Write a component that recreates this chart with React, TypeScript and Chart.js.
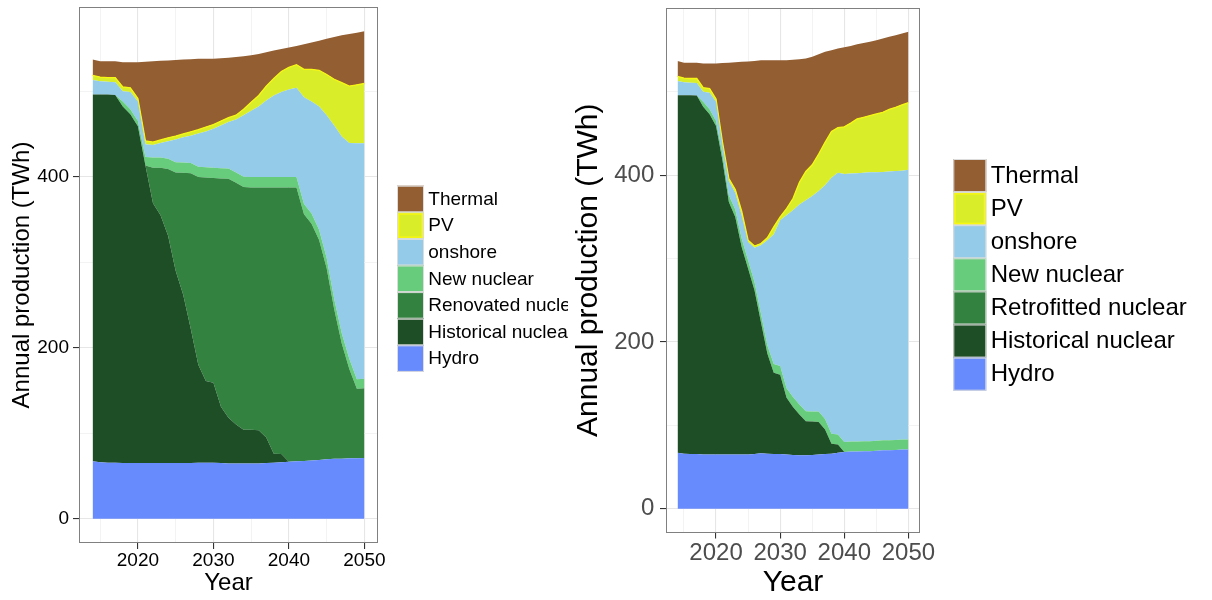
import React, { useEffect, useRef } from 'react';
import { Chart, registerables } from 'chart.js';

Chart.register(...registerables);

const FONT = '"Liberation Sans", Arial, Helvetica, sans-serif';
Chart.defaults.font.family = FONT;

// ---------- categories / ticks ----------
const years = [
  2014, 2015, 2016, 2017, 2018, 2019, 2020, 2021, 2022, 2023, 2024, 2025, 2026,
  2027, 2028, 2029, 2030, 2031, 2032, 2033, 2034, 2035, 2036, 2037, 2038, 2039,
  2040, 2041, 2042, 2043, 2044, 2045, 2046, 2047, 2048, 2049, 2050,
];
const xGridTicks = [2015, 2020, 2025, 2030, 2035, 2040, 2045, 2050];
const xLabelTicks = [2020, 2030, 2040, 2050];
const yGridTicks = [0, 100, 200, 300, 400, 500];
const yLabelTicks = [0, 200, 400];

// ---------- left scenario (TWh) ----------
const hydroA = [67, 66, 65.5, 65.5, 65, 65, 65, 65, 65, 65, 65, 65, 65, 65, 65.5, 65.5, 65.5, 65, 64.5, 64.5, 64.5, 64.5, 64.5, 65, 65.5, 66, 66.5, 67, 67.5, 68, 68.5, 69.5, 70, 70, 70.5, 70.5, 71];
const historicalA = [429, 430, 430.5, 430, 417, 408, 394, 348, 304, 290, 266, 225, 197, 157, 114.5, 95.5, 93.5, 66, 53.5, 45.5, 39.5, 39.5, 39, 30, 10.5, 9.5, 0, 0, 0, 0, 0, 0, 0, 0, 0, 0, 0];
const renovatedA = [0, 0, 0, 0, 0, 0, 0, 0, 41.5, 55.5, 78, 115, 142.5, 182, 219.5, 238, 239.5, 267, 279.5, 283, 284, 283.5, 284, 292.5, 311.5, 312, 321, 320.5, 288.5, 277, 257.5, 223.5, 175, 135, 104.5, 81.5, 81.5];
const newNuclearA = [0, 0, 0, 0, 6, 6, 6, 10, 12, 12, 12, 12, 12, 12, 12, 12, 12, 12, 12, 12, 12, 12, 12, 12, 12, 12, 12, 12, 12, 12, 12, 12, 12, 12, 12, 11, 11];
const onshoreA = [17, 15.5, 15, 15, 12, 20, 23, 15, 14.5, 17, 20.5, 26.5, 29.5, 32, 39, 42, 45.5, 50, 54.5, 62, 72, 77.5, 82.5, 89.5, 95.5, 99.5, 102.5, 104.5, 125, 131, 144, 167, 203, 230, 252.5, 276, 275.5];
const pvA = [5.5, 5, 5, 5.5, 5, 5, 3.5, 4, 3.5, 3.5, 4, 4, 4, 4.5, 4.5, 5, 5, 5, 5, 5, 7, 10, 13, 17, 20, 24, 26, 27, 32.5, 37.5, 42.5, 47.5, 54, 63, 66.5, 68.5, 70];
const thermalA = [18.5, 18.5, 19, 19, 29, 30, 42.5, 92.5, 94.5, 92.5, 90.5, 89, 87, 85, 83, 80, 77, 73.5, 70, 68, 62, 55, 48.5, 39.5, 32.5, 26.5, 23, 22, 29.5, 31.5, 34.5, 42, 49.5, 55.5, 61, 61, 61];

// ---------- right scenario (TWh) ----------
const hydroB = [67, 66, 65.5, 65.5, 65, 65, 65, 65, 65, 65, 65, 65, 65.5, 66.5, 66, 65.5, 65.5, 65, 64.5, 64, 64, 64.5, 65, 65.5, 66, 67, 68, 68.5, 68.5, 69, 69, 69.5, 70, 70, 70.5, 71, 71];
const historicalB = [429, 430, 430.5, 430, 417, 408, 394, 353, 303, 285, 249, 223, 196.5, 157.5, 120, 97.5, 95, 68, 57.5, 49, 41, 40, 39, 29.5, 12, 10, 0, 0, 0, 0, 0, 0, 0, 0, 0, 0, 0];
const retrofittedB = [0, 0, 0, 0, 0, 0, 0, 0, 0, 0, 0, 0, 0, 0, 0, 0, 0, 0, 0, 0, 0, 0, 0, 0, 0, 0, 0, 0, 0, 0, 0, 0, 0, 0, 0, 0, 0];
const newNuclearB = [0, 0, 0, 0, 6, 6, 6, 8, 8, 9, 10, 10, 10, 10, 10, 10.5, 10.5, 11.5, 12, 12, 12, 12, 12.5, 12.5, 12, 12, 12, 12, 12, 12, 12, 12, 12, 12, 12, 12, 12];
const onshoreB = [17, 15.5, 15, 15, 12, 20, 23, 11, 17, 20, 28, 22, 41, 82, 126, 155.5, 175, 207.5, 224, 240, 253, 258.5, 264.5, 280.5, 307, 314, 321.5, 321.5, 322, 322, 322.5, 322, 322, 322.5, 322.5, 322.5, 323.5];
const pvB = [5.5, 5, 5, 5.5, 5, 5, 3.5, 3, 3, 4, 5, 2, 2, 2, 3, 9, 4, 8, 14, 26.5, 34.5, 37.5, 44.5, 51.5, 55.5, 54, 56.5, 60.5, 65, 66.5, 68, 70, 71.5, 74.5, 76.5, 79, 80.5];
const thermalB = [18.5, 18.5, 19, 19, 29, 30, 42.5, 94.5, 139, 152.5, 179, 214.5, 222, 220, 213, 200, 188, 178, 166.5, 147.5, 135.5, 129.5, 119.5, 108.5, 97.5, 95, 95.5, 92.5, 89.5, 89, 88.5, 88.5, 88.5, 87, 86.5, 85.5, 85];

// legend entries, top to bottom
const legendNamesA = ['Thermal', 'PV', 'onshore', 'New nuclear', 'Renovated nuclear', 'Historical nuclear', 'Hydro'];
const legendNamesB = ['Thermal', 'PV', 'onshore', 'New nuclear', 'Retrofitted nuclear', 'Historical nuclear', 'Hydro'];

const COLORS = {
  thermal: '#925e32',
  pv: '#d9ee29',
  pvLine: '#f7f712',
  onshore: '#93cbe9',
  newNuc: '#67cc7b',
  renov: '#338240',
  hist: '#1e4e26',
  hydro: '#678bfc',
};
// stack order bottom -> top
const stackColors = [COLORS.hydro, COLORS.hist, COLORS.renov, COLORS.newNuc, COLORS.onshore, COLORS.pv, COLORS.thermal];

const ggPlugin = {
  id: 'ggExtras',
  afterDraw(chart: any, _args: any, opts: any) {
    const { ctx, chartArea: a } = chart;
    ctx.save();
    // panel border
    ctx.strokeStyle = '#808080';
    ctx.lineWidth = 1;
    const l = Math.round(a.left) + 0.5;
    const t = Math.round(a.top) + 0.5;
    const r = Math.round(a.right) - 0.5;
    const b = Math.round(a.bottom) - 0.5;
    ctx.strokeRect(l, t, r - l, b - t);
    // legend
    const lg = opts.legend;
    ctx.font = `${lg.fontSize}px ${FONT}`;
    ctx.textBaseline = 'middle';
    ctx.textAlign = 'left';
    lg.names.forEach((name: string, i: number) => {
      const y = lg.top + i * lg.keyH;
      const color = stackColors[stackColors.length - 1 - i];
      ctx.fillStyle = color;
      ctx.fillRect(lg.left, y, lg.keyW, lg.keyH);
      ctx.strokeStyle = '#dcdcdc';
      ctx.lineWidth = 1;
      ctx.strokeRect(lg.left + 0.5, y + 0.5, lg.keyW - 1, lg.keyH - 1);
      if (i === 1) {
        ctx.strokeStyle = COLORS.pvLine;
        ctx.lineWidth = 1.5;
        ctx.strokeRect(lg.left + 1.75, y + 1.75, lg.keyW - 3.5, lg.keyH - 3.5);
      }
      ctx.fillStyle = '#000';
      ctx.fillText(name, lg.textX, y + lg.keyH / 2 + 0.5);
    });
    ctx.restore();
  },
};

type Spec = {
  series: number[][]; // bottom -> top
  legendNames: string[];
  width: number;
  padding: { top: number; right: number; left: number; bottom: number };
  yAxisWidth: number;
  xAxisHeight: number;
  tickSize: number;
  tickColor: string;
  titleSize: number;
  yTitlePad: number;
  xTitlePad: number;
  yTickPad: number;
  yMin: number;
  yMax: number;
  legend: any;
};

function buildConfig(s: Spec): any {
  const stackNames = [...s.legendNames].reverse();
  const datasets = s.series.map((vals, i) => ({
    label: stackNames[i],
    data: years.map((yr, j) => ({ x: yr, y: vals[j] })),
    backgroundColor: stackColors[i],
    borderColor: i === 5 ? COLORS.pvLine : 'rgba(0,0,0,0)',
    borderWidth: i === 5 ? 1.3 : 0,
    fill: i === 0 ? 'origin' : '-1',
    pointRadius: 0,
    pointHoverRadius: 0,
    tension: 0,
  }));
  const gridColor = (major: boolean) => (major ? '#e6e6e6' : '#f3f3f3');
  return {
    type: 'line',
    data: { datasets },
    plugins: [ggPlugin],
    options: {
      animation: false,
      responsive: false,
      devicePixelRatio: 1,
      events: [],
      layout: { padding: s.padding },
      plugins: {
        legend: { display: false },
        tooltip: { enabled: false },
        ggExtras: { legend: { ...s.legend, names: s.legendNames } },
      },
      scales: {
        x: {
          type: 'linear',
          min: 2012.2,
          max: 2051.8,
          afterBuildTicks: (sc: any) => {
            sc.ticks = xGridTicks.map((v) => ({ value: v }));
          },
          afterFit: (sc: any) => {
            sc.height = s.xAxisHeight;
            sc.paddingLeft = 0;
            sc.paddingRight = 0;
            sc.paddingTop = 0;
            sc.paddingBottom = 0;
          },
          border: { display: false },
          grid: {
            color: (c: any) => gridColor(xLabelTicks.includes(c.tick?.value)),
            lineWidth: (c: any) => (xLabelTicks.includes(c.tick?.value) ? 1.1 : 1),
            tickLength: 6,
            tickColor: (c: any) => (xLabelTicks.includes(c.tick?.value) ? '#333333' : 'rgba(0,0,0,0)'),
            tickWidth: 1.1,
          },
          ticks: {
            autoSkip: false,
            maxRotation: 0,
            minRotation: 0,
            padding: 0,
            color: s.tickColor,
            font: { size: s.tickSize, family: FONT },
            callback: (v: any) => (xLabelTicks.includes(v) ? String(v) : ''),
          },
          title: {
            display: true,
            text: 'Year',
            color: '#000',
            font: { size: s.titleSize, family: FONT, lineHeight: 1 },
            padding: { top: 0, bottom: s.xTitlePad },
          },
        },
        y: {
          type: 'linear',
          stacked: true,
          min: s.yMin,
          max: s.yMax,
          afterBuildTicks: (sc: any) => {
            sc.ticks = yGridTicks.map((v) => ({ value: v }));
          },
          afterFit: (sc: any) => {
            sc.width = s.yAxisWidth;
            sc.paddingLeft = 0;
            sc.paddingRight = 0;
            sc.paddingTop = 0;
            sc.paddingBottom = 0;
          },
          border: { display: false },
          grid: {
            color: (c: any) => gridColor(yLabelTicks.includes(c.tick?.value)),
            lineWidth: (c: any) => (yLabelTicks.includes(c.tick?.value) ? 1.1 : 1),
            tickLength: 6,
            tickColor: (c: any) => (yLabelTicks.includes(c.tick?.value) ? '#333333' : 'rgba(0,0,0,0)'),
            tickWidth: 1.1,
          },
          ticks: {
            padding: s.yTickPad,
            color: s.tickColor,
            font: { size: s.tickSize, family: FONT },
            callback: (v: any) => (yLabelTicks.includes(v) ? String(v) : ''),
          },
          title: {
            display: true,
            text: 'Annual production (TWh)',
            color: '#000',
            font: { size: s.titleSize, family: FONT, lineHeight: 1 },
            padding: { top: s.yTitlePad, bottom: 0 },
          },
        },
      },
    },
  };
}

const specA: Spec = {
  series: [hydroA, historicalA, renovatedA, newNuclearA, onshoreA, pvA, thermalA],
  legendNames: legendNamesA,
  width: 568,
  padding: { top: 7, right: 190, left: 0, bottom: 0 },
  yAxisWidth: 79,
  xAxisHeight: 57,
  tickSize: 19,
  tickColor: '#000000',
  titleSize: 24,
  yTitlePad: 10.7,
  xTitlePad: 4.6,
  yTickPad: 4,
  yMin: -28.5,
  yMax: 598.5,
  legend: { left: 397, top: 185.7, keyW: 27, keyH: 26.6, textX: 428.3, fontSize: 19 },
};

const specB: Spec = {
  series: [hydroB, historicalB, retrofittedB, newNuclearB, onshoreB, pvB, thermalB],
  legendNames: legendNamesB,
  width: 644,
  padding: { top: 8, right: 292, left: 0, bottom: 0 },
  yAxisWidth: 98,
  xAxisHeight: 67.5,
  tickSize: 24,
  tickColor: '#4d4d4d',
  titleSize: 30,
  yTitlePad: 5.3,
  xTitlePad: 2.1,
  yTickPad: 5.7,
  yMin: -28.6,
  yMax: 600.6,
  legend: { left: 385.3, top: 159, keyW: 33, keyH: 33.1, textX: 422.7, fontSize: 24 },
};

function Panel({ spec, left }: { spec: Spec; left: number }) {
  const ref = useRef<HTMLCanvasElement>(null);
  useEffect(() => {
    if (!ref.current) return;
    const chart = new Chart(ref.current, buildConfig(spec));
    return () => chart.destroy();
  }, [spec]);
  return (
    <canvas
      ref={ref}
      width={spec.width}
      height={600}
      style={{ position: 'absolute', left, top: 0, width: spec.width, height: 600 }}
    />
  );
}

export default function App() {
  return (
    <div
      style={{
        position: 'fixed',
        left: 0,
        top: 0,
        width: 1212,
        height: 600,
        background: '#ffffff',
        overflow: 'hidden',
      }}
    >
      <Panel spec={specA} left={0} />
      <Panel spec={specB} left={568} />
    </div>
  );
}
